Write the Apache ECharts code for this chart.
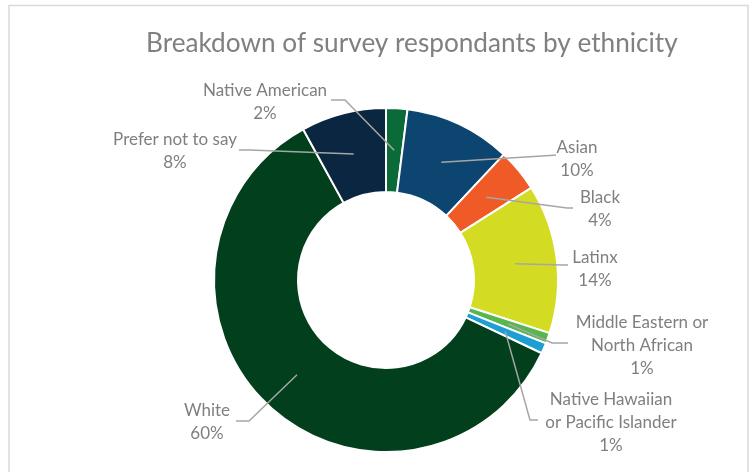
<!DOCTYPE html>
<html>
<head>
<meta charset="utf-8">
<script src="https://cdn.jsdelivr.net/npm/echarts@6/dist/echarts.min.js"></script>
<style>
  html, body { margin: 0; padding: 0; background: #ffffff; }
  #chart { width: 755px; height: 472px; }
</style>
</head>
<body>
<div id="chart"></div>
<script>
// Survey respondents by ethnicity (percent of respondents)
const categories = [
  'Native American',
  'Asian',
  'Black',
  'Latinx',
  'Middle Eastern or\nNorth African',
  'Native Hawaiian\nor Pacific Islander',
  'White',
  'Prefer not to say'
];
const shares = [2, 10, 4, 14, 1, 1, 60, 8];
const sliceColors = [
  '#0b6b38', '#0d4571', '#ef5a27', '#d3dc22',
  '#55b74e', '#1d9fd3', '#023f1c', '#0a2640'
];

// Geometry of the ring (pixels)
const CX = 386, CY = 280, R_IN = 88, R_OUT = 172;
const R_ANCHOR = (R_IN + R_OUT) / 2;

// Label placement: text-block centre and the elbow/end of each leader line
const labelSpots = [
  { x: 265, y: 102, elbow: [345, 100], end: [331, 100] },
  { x: 577, y: 159, elbow: [550, 155.5], end: [556, 155] },
  { x: 600, y: 209, elbow: [567, 208], end: [573, 208] },
  { x: 595, y: 269, elbow: [563, 265], end: [568, 265] },
  { x: 642, y: 346, elbow: [552, 343], end: [568, 343] },
  { x: 611, y: 423, elbow: [530, 420], end: [538, 420] },
  { x: 207, y: 422, elbow: [249, 421], end: [236, 421] },
  { x: 175, y: 151, elbow: [250, 150], end: [239, 150] }
];

const total = shares.reduce((a, b) => a + b, 0);
const cumulative = [];
shares.reduce((acc, v, i) => { cumulative[i] = acc; return acc + v; }, 0);

function anchorPoint(i) {
  const a = (cumulative[i] + shares[i] / 2) / total * Math.PI * 2;
  return [CX + R_ANCHOR * Math.sin(a), CY - R_ANCHOR * Math.cos(a)];
}

const pieData = categories.map((name, i) => ({ name: name, value: shares[i] }));

const chart = echarts.init(document.getElementById('chart'), null, { renderer: 'canvas' });

chart.setOption({
  backgroundColor: '#ffffff',
  animation: false,
  title: {
    text: 'Breakdown of survey respondants by ethnicity',
    left: 146,
    top: 31,
    padding: 0,
    textStyle: {
      fontFamily: 'Lato',
      fontSize: 26.2,
      fontWeight: 'normal',
      color: '#808080'
    }
  },
  graphic: [{
    type: 'rect',
    shape: { x: 9, y: 5.5, width: 739, height: 480 },
    style: { fill: 'none', stroke: '#d9d9d9', lineWidth: 1.5 },
    silent: true,
    z: -10
  }],
  series: [
    // Coloured ring
    {
      type: 'pie',
      z: 2,
      center: [CX, CY],
      radius: [R_IN, R_OUT],
      startAngle: 90,
      clockwise: true,
      itemStyle: {
        borderColor: '#ffffff',
        borderWidth: 2,
        color: p => sliceColors[p.dataIndex]
      },
      label: { show: false },
      labelLine: { show: false },
      emphasis: { disabled: true },
      data: pieData
    },
    // Transparent twin ring on top that carries labels and leader lines
    {
      type: 'pie',
      z: 3,
      silent: true,
      center: [CX, CY],
      radius: [R_IN, R_OUT],
      startAngle: 90,
      clockwise: true,
      avoidLabelOverlap: false,
      itemStyle: { color: 'rgba(0,0,0,0)', borderWidth: 0 },
      label: {
        show: true,
        formatter: p => p.name + '\n' + shares[p.dataIndex] + '%',
        fontFamily: 'Lato',
        fontSize: 17,
        lineHeight: 23,
        color: '#7f7f7f',
        align: 'center'
      },
      labelLine: {
        show: true,
        showAbove: true,
        lineStyle: { color: '#a6a6a6', width: 1.5 }
      },
      labelLayout: params => {
        const i = params.dataIndex;
        const s = labelSpots[i];
        return {
          x: s.x,
          y: s.y,
          align: 'center',
          verticalAlign: 'middle',
          labelLinePoints: [anchorPoint(i), s.elbow, s.end]
        };
      },
      emphasis: { disabled: true },
      data: pieData
    }
  ]
});
</script>
</body>
</html>
